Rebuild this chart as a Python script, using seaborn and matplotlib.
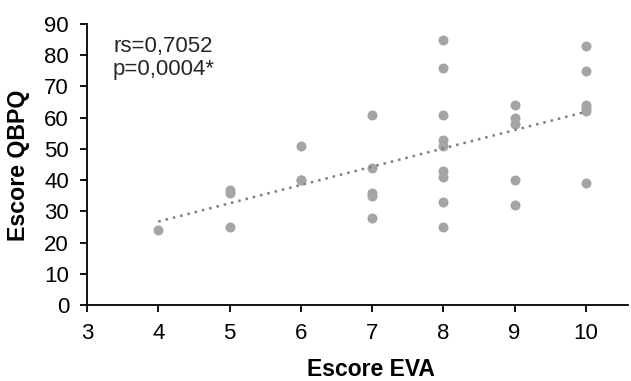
import numpy as np
import pandas as pd
import matplotlib
matplotlib.use("Agg")
import matplotlib.pyplot as plt
import seaborn as sns

# EVA score vs QBPQ score
eva = [4, 5, 5, 5, 6, 6, 6,
       7, 7, 7, 7, 7,
       8, 8, 8, 8, 8, 8, 8, 8, 8,
       9, 9, 9, 9, 9,
       10, 10, 10, 10, 10, 10]
qbpq = [24, 25, 36, 37, 51, 40, 40,
        61, 44, 36, 35, 28,
        85, 76, 61, 53, 51, 43, 41, 33, 25,
        64, 60, 58, 40, 32,
        83, 75, 64, 63, 62, 39]
stats_text = "rs=0,7052\np=0,0004*"

df = pd.DataFrame({"EVA": eva, "QBPQ": qbpq})

sns.set_style("ticks")
plt.rcParams["font.family"] = ["Liberation Sans", "DejaVu Sans"]

fig = plt.figure(figsize=(6.31, 3.81), dpi=100)
ax = fig.add_axes([0.138, 0.199, 0.857, 0.738])

sns.regplot(data=df, x="EVA", y="QBPQ", ax=ax, ci=None,
            scatter_kws={"s": 52, "color": "#a5a5a5", "alpha": 1, "linewidths": 0},
            line_kws={"color": "#7f7f7f", "linestyle": (0, (1, 2)), "linewidth": 1.8})

ax.set_xlim(3, 10.59)
ax.set_ylim(0, 90)
ax.set_xticks(range(3, 11))
ax.set_yticks(range(0, 91, 10))
ax.tick_params(labelsize=16, length=5, width=1.3, color="black", labelcolor="black")
ax.tick_params(axis="y", pad=8)
ax.tick_params(axis="x", pad=8)
for side in ["right", "top"]:
    ax.spines[side].set_visible(False)
for side in ["left", "bottom"]:
    ax.spines[side].set_linewidth(1.3)
    ax.spines[side].set_color("black")

ax.set_xlabel("Escore EVA", fontsize=16.5, fontweight="bold", color="black")
ax.set_ylabel("Escore QBPQ", fontsize=16.7, fontweight="bold", color="black")
ax.xaxis.set_label_coords(0.525, -0.189)
ax.yaxis.set_label_coords(-0.105, 0.498)
ax.text(0.048, 0.957, stats_text, transform=ax.transAxes, fontsize=16,
        va="top", ha="left", linespacing=1.15)

fig.savefig("out.png", dpi=100)
